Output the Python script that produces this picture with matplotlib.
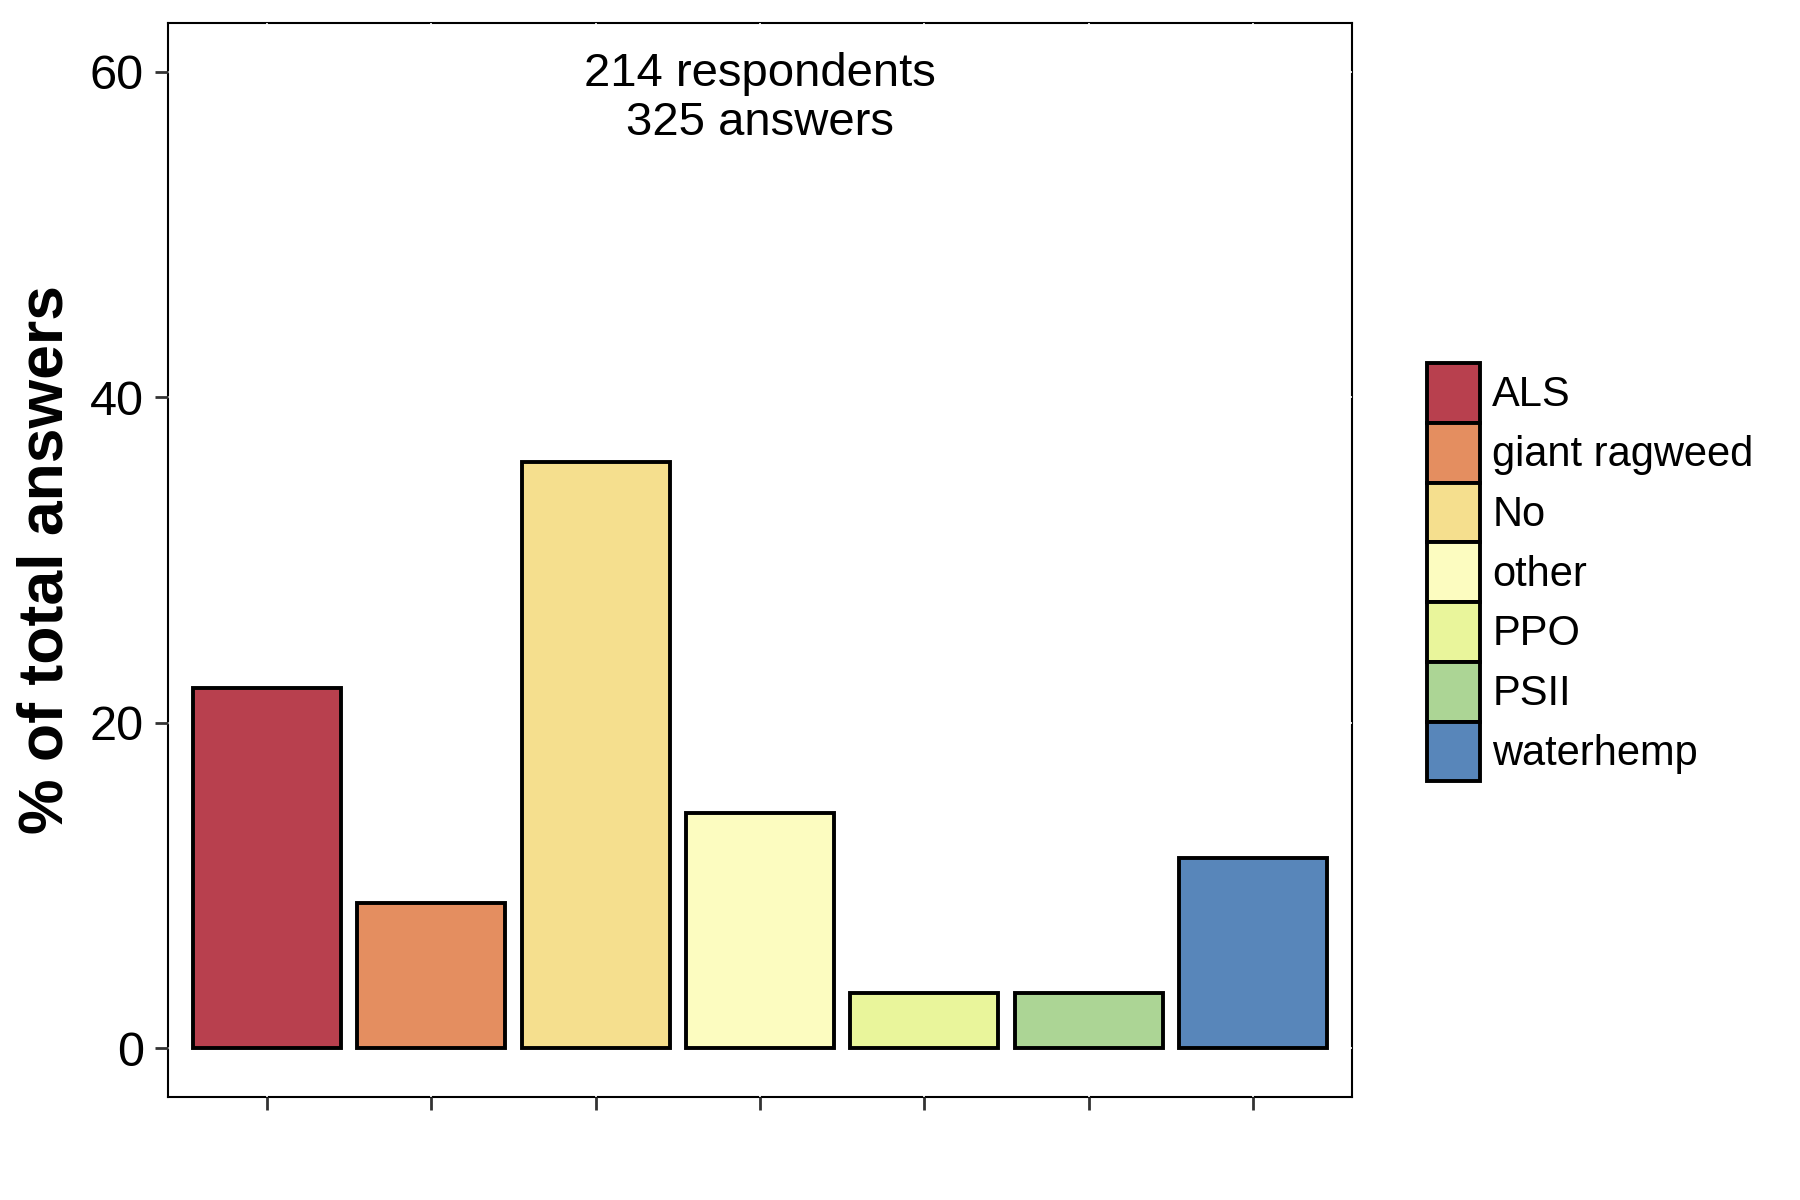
import matplotlib
matplotlib.use("Agg")
import matplotlib.pyplot as plt
from matplotlib.patches import Patch

plt.rcParams['font.family'] = ['Liberation Sans', 'DejaVu Sans']

categories = ["ALS", "giant ragweed", "No", "other", "PPO", "PSII", "waterhemp"]
values = [22.15, 8.92, 36.0, 14.46, 3.38, 3.38, 11.69]
colors = ["#B8404E", "#E48E60", "#F5DF8E", "#FCFCC0", "#E9F59B", "#ACD595", "#5886BA"]
yticks = [0, 20, 40, 60]
annotation = "214 respondents\n325 answers"
ylabel = "% of total answers"

fig = plt.figure(figsize=(18, 12), dpi=100)
ax = fig.add_axes([168/1800, 1 - 1097/1200, (1352-168)/1800, (1097-23)/1200])

x = list(range(1, len(categories) + 1))
ax.bar(x, values, width=0.9, color=colors, edgecolor="black", linewidth=2.8, zorder=3)

ax.set_xlim(0.4, 7.6)
ax.set_ylim(-3, 63)
ax.set_xticks(x)
ax.set_xticklabels([])
ax.set_yticks(yticks)
ax.set_yticklabels([str(t) for t in yticks], fontsize=35)

ax.tick_params(axis='both', direction='out', length=9.5, width=2.0, color="#333333", pad=8)
for s in ax.spines.values():
    s.set_linewidth(1.5)
    s.set_color("black")
    s.set_zorder(0.4)
ax.set_axisbelow(True)
ax.grid(True, color="white", linewidth=1.2, zorder=0.5)

ax.text(4, 58.35, annotation, ha="center", va="center", fontsize=34, linespacing=1.13, zorder=4)

ax.set_ylabel(ylabel, fontsize=45, fontweight="bold")
ax.yaxis.set_label_coords(-(168 - 46) / 1184, 0.5)
ax.yaxis.label.set_va("center")

handles = [Patch(facecolor=c, edgecolor="black", linewidth=2.8) for c in colors]
fig.legend(handles, categories, loc="upper left",
           bbox_to_anchor=(1427/1800, 1 - 363/1200), frameon=False,
           fontsize=30, handlelength=1.27, handleheight=1.83, labelspacing=0.0,
           handletextpad=0.3, borderaxespad=0, borderpad=0)

fig.savefig("out.png", dpi=100, facecolor="white")
